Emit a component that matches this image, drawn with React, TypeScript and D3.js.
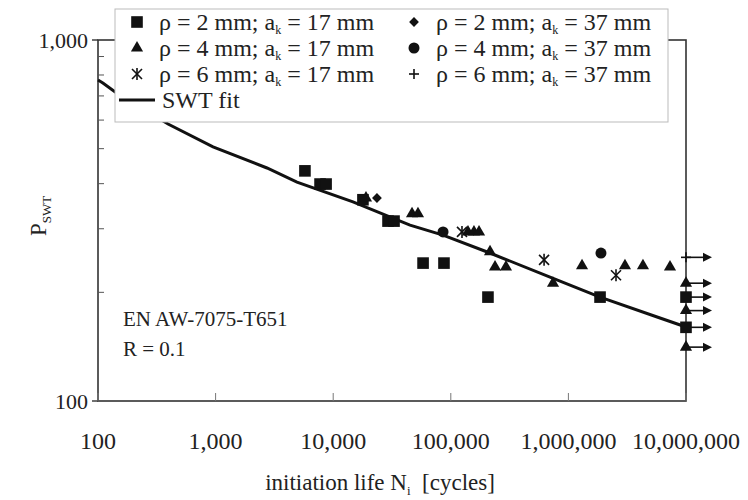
import React from "react";
import * as d3 from "d3";

const W = 748;
const H = 500;

const xTickValues = [100, 1000, 10000, 100000, 1000000, 10000000];
const xTickLabels = ["100", "1,000", "10,000", "100,000", "1,000,000", "10,000,000"];
const yTickValues = [100, 1000];
const yTickLabels = ["100", "1,000"];
const yMinorTicks = [200, 300, 400, 500, 600, 700, 800, 900];

// [N cycles, P_SWT]
const rho2ak17 = [
  [5750, 434], [7730, 399], [8700, 399], [17900, 361], [29250, 315], [32900, 315],
  [58100, 241], [87500, 241], [207000, 194], [1858000, 194],
];
const rho2ak17Runout = [194, 160];
const rho4ak17 = [
  [19000, 365], [46800, 330], [52600, 330], [140000, 294], [157400, 294], [173800, 294],
  [215500, 259], [237700, 235], [294600, 235], [740000, 212], [1306000, 237],
  [3027000, 237], [4305000, 237], [7310000, 235],
];
const rho4ak17Runout = [212, 178, 141];
const rho6ak17 = [[124500, 294], [621000, 246], [2540000, 223]];
const rho6ak17Runout: number[] = [];
const rho2ak37 = [[23550, 365]];
const rho2ak37Runout: number[] = [];
const rho4ak37 = [[85900, 294], [1892000, 257]];
const rho4ak37Runout: number[] = [];
const rho6ak37: number[][] = [];
const rho6ak37Runout = [250];

const runoutLife = 10000000;

const swtFit = [
  [100, 775], [110, 760], [140, 718], [394, 585], [951, 506], [2735, 442], [4920, 404],
  [14730, 356], [45000, 307], [85900, 288], [215000, 257], [698000, 220.5],
  [1858000, 194], [6010000, 169.8], [10000000, 160.3],
];

const seriesList = [
  { rho: "2", ak: "17", shape: "square", data: rho2ak17, runout: rho2ak17Runout },
  { rho: "4", ak: "17", shape: "triangle", data: rho4ak17, runout: rho4ak17Runout },
  { rho: "6", ak: "17", shape: "star", data: rho6ak17, runout: rho6ak17Runout },
  { rho: "2", ak: "37", shape: "diamond", data: rho2ak37, runout: rho2ak37Runout },
  { rho: "4", ak: "37", shape: "circle", data: rho4ak37, runout: rho4ak37Runout },
  { rho: "6", ak: "37", shape: "plus", data: rho6ak37, runout: rho6ak37Runout },
];

const FONT = "'Liberation Serif', 'Times New Roman', serif";
const INK = "#111";

const left = 98, right = 686, top = 40, bottom = 401;

const x = d3.scaleLog().domain([100, 10000000]).range([left, right]);
const y = d3.scaleLog().domain([100, 1000]).range([bottom, top]);

function Marker({ shape, cx, cy }: { shape: string; cx: number; cy: number }) {
  if (shape === "square") {
    return <path d={d3.symbol(d3.symbolSquare, 135)()!} transform={`translate(${cx},${cy})`} fill={INK} />;
  }
  if (shape === "triangle") {
    return <path d={d3.symbol(d3.symbolTriangle, 64)()!} transform={`translate(${cx},${cy})`} fill={INK} />;
  }
  if (shape === "circle") {
    return <path d={d3.symbol(d3.symbolCircle, 95)()!} transform={`translate(${cx},${cy})`} fill={INK} />;
  }
  if (shape === "diamond") {
    return <path d={d3.symbol(d3.symbolSquare, 48)()!} transform={`translate(${cx},${cy}) rotate(45)`} fill={INK} />;
  }
  if (shape === "star") {
    const r = 5;
    return (
      <g transform={`translate(${cx},${cy})`} stroke={INK} strokeWidth={1.6}>
        <line x1={-r} y1={-r} x2={r} y2={r} />
        <line x1={-r} y1={r} x2={r} y2={-r} />
        <line x1={0} y1={-r - 1} x2={0} y2={r + 1} />
      </g>
    );
  }
  // plus
  const r = 5;
  return (
    <g transform={`translate(${cx},${cy})`} stroke={INK} strokeWidth={1.6}>
      <line x1={-r} y1={0} x2={r} y2={0} />
      <line x1={0} y1={-r} x2={0} y2={r} />
    </g>
  );
}

export default function App() {
  const fitLine = d3
    .line<number[]>()
    .x((d) => x(d[0]))
    .y((d) => y(d[1]))(swtFit)!;

  const legendX = 115, legendY = 9, legendW = 553, legendH = 113;
  const rowY = [22, 48, 74];
  const colMarkerX = [137, 414];
  const colTextX = [159, 436];

  return (
    <svg width={W} height={H} style={{ position: "absolute", left: 0, top: 0 }} fontFamily={FONT}>
      <rect x={0} y={0} width={W} height={H} fill="#fff" />

      {/* frame */}
      <rect x={left} y={top} width={right - left} height={bottom - top} fill="none" stroke="#333" strokeWidth={1.6} />

      {/* y minor ticks (inside) */}
      {yMinorTicks.map((v) => (
        <line key={v} x1={left} x2={left + 6} y1={y(v)} y2={y(v)} stroke="#555" strokeWidth={1} />
      ))}
      {/* y major ticks (outside) */}
      {yTickValues.map((v, i) => (
        <g key={v}>
          <line x1={left - 6} x2={left} y1={y(v)} y2={y(v)} stroke="#333" strokeWidth={1.4} />
          <text x={left - 10} y={y(v)} dy="0.35em" textAnchor="end" fontSize={22} fill="#222">
            {yTickLabels[i]}
          </text>
        </g>
      ))}
      {/* x major ticks (inside) */}
      {xTickValues.map((v, i) => (
        <g key={v}>
          <line x1={x(v)} x2={x(v)} y1={bottom} y2={bottom - 8} stroke="#777" strokeWidth={1} />
          <text x={x(v)} y={449} textAnchor="middle" fontSize={24} fill="#222">
            {xTickLabels[i]}
          </text>
        </g>
      ))}

      {/* axis titles */}
      <text x={380} y={490} textAnchor="middle" fontSize={23} fill="#222">
        initiation life N<tspan fontSize={13} dy={5}>i</tspan>
        <tspan dy={-5}>{"\u00a0\u00a0[cycles]"}</tspan>
      </text>
      <text transform={`translate(46,236) rotate(-90)`} fontSize={23} fill="#222">
        P<tspan fontSize={13} dy={5}>SWT</tspan>
      </text>

      {/* annotations */}
      <text x={123} y={326} fontSize={21} fill="#222">EN AW-7075-T651</text>
      <text x={123} y={356} fontSize={21} fill="#222">R = 0.1</text>

      {/* fit line */}
      <path d={fitLine} fill="none" stroke={INK} strokeWidth={3} />

      {/* runout arrows */}
      {seriesList.map((s, si) =>
        s.runout.map((p, i) => {
          const x0 = x(runoutLife);
          const yy = y(p);
          return (
            <g key={`a${si}-${i}`}>
              <line x1={x0} x2={x0 + 18} y1={yy} y2={yy} stroke={INK} strokeWidth={1.6} />
              <path d={`M${x0 + 17},${yy - 4.5}L${x0 + 26},${yy}L${x0 + 17},${yy + 4.5}Z`} fill={INK} />
            </g>
          );
        })
      )}

      {/* points */}
      {seriesList.map((s, si) => (
        <g key={`s${si}`}>
          {s.data.map((d, i) => (
            <Marker key={i} shape={s.shape} cx={x(d[0])} cy={y(d[1])} />
          ))}
          {s.runout.map((p, i) => (
            <Marker key={`r${i}`} shape={s.shape} cx={x(runoutLife)} cy={y(p)} />
          ))}
        </g>
      ))}

      {/* legend */}
      <rect x={legendX} y={legendY} width={legendW} height={legendH} fill="#fff" stroke="#bbb" strokeWidth={1} />
      {seriesList.map((s, si) => {
        const col = si < 3 ? 0 : 1;
        const row = si % 3;
        return (
          <g key={`l${si}`}>
            <Marker shape={s.shape} cx={colMarkerX[col]} cy={rowY[row]} />
            <text x={colTextX[col]} y={rowY[row]} dy="0.35em" fontSize={24} fill="#222">
              {`\u03c1 = ${s.rho} mm; a`}
              <tspan fontSize={12} dy={4}>k</tspan>
              <tspan dy={-4}>{` = ${s.ak} mm`}</tspan>
            </text>
          </g>
        );
      })}
      <line x1={119} x2={155} y1={100} y2={100} stroke={INK} strokeWidth={3} />
      <text x={162} y={100} dy="0.35em" fontSize={24} fill="#222">SWT fit</text>
    </svg>
  );
}
